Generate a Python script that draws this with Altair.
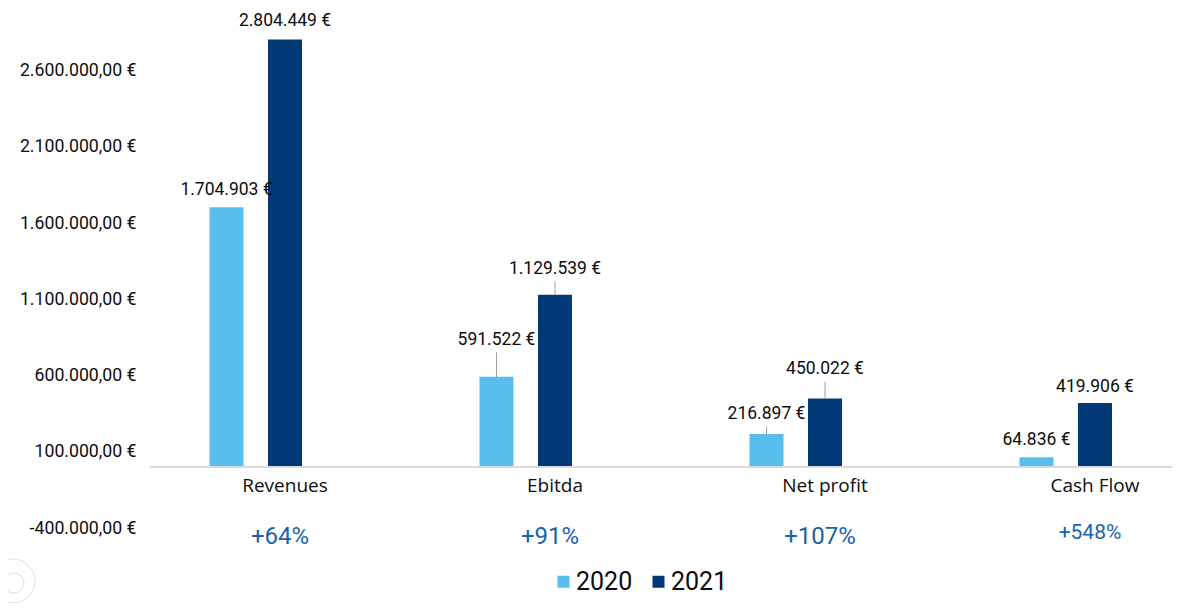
import altair as alt
import pandas as pd

# ---------------- data ----------------
categories = ["Revenues", "Ebitda", "Net profit", "Cash Flow"]
years = ["2020", "2021"]
values_2020 = [1704903, 591522, 216897, 64836]
values_2021 = [2804449, 1129539, 450022, 419906]
growth = ["+64%", "+91%", "+107%", "+548%"]
y_ticks = [-400000, 100000, 600000, 1100000, 1600000, 2100000, 2600000]

# ---------------- styling ----------------
# label lift above the bar top (pixels) as placed in the original
lift_2020 = [17.5, 37, 20, 17.5]
lift_2021 = [18.7, 26, 29, 16.5]

W, H = 1022, 503
YMIN, YMAX = -400000, 2900000
PX_PER_UNIT = H / (YMAX - YMIN)
ZERO_FROM_BOTTOM = round(-YMIN * PX_PER_UNIT)
C2020, C2021 = "#58BFED", "#023A78"
TXT = "#0d0d0d"

rows = []
for i, c in enumerate(categories):
    rows.append({"category": c, "year": "2020", "value": values_2020[i], "lift": lift_2020[i]})
    rows.append({"category": c, "year": "2021", "value": values_2021[i], "lift": lift_2021[i]})
df = pd.DataFrame(rows)
pct_df = pd.DataFrame({"category": categories, "growth": growth})

x_scale = alt.Scale(domain=categories, range=[0, 1080], paddingInner=0, paddingOuter=0)
x_axis = alt.Axis(title=None, labelAngle=0, domain=False, ticks=False, grid=False,
                  offset=-ZERO_FROM_BOTTOM,
                  labelFont="Open Sans", labelFontSize=19, labelColor=TXT, labelPadding=9)
x_enc = alt.X("category:N", sort=categories, scale=x_scale, axis=x_axis)
xoff = alt.XOffset("year:N", scale=alt.Scale(domain=["2020", "2021", "2022"], range=[47.25, 222.75],
                                             paddingInner=0.419, paddingOuter=0.2095))
y_scale = alt.Scale(domain=[YMIN, YMAX], nice=False, zero=False)

label_expr = ("replace(replace(replace(replace(format(datum.value, ',.2f'), regexp(',', 'g'), '#'),"
              " regexp('[.]', 'g'), ','), regexp('#', 'g'), '.'), '\u2212', '-') + ' \u20ac'")

y_axis = alt.Axis(title=None, values=y_ticks, labelExpr=label_expr, domain=False, ticks=False,
                  grid=False, labelFont="Roboto", labelFontSize=17.7, labelColor=TXT, labelPadding=14)

def yq(field):
    return alt.Y(field, type="quantitative", scale=y_scale, axis=y_axis)

base = alt.Chart(df).transform_calculate(
    label_y=f"datum.value + datum.lift / {PX_PER_UNIT}",
    leader_top=f"datum.value + (datum.lift - 12.5) / {PX_PER_UNIT}",
    label="replace(format(datum.value, ',d'), regexp(',', 'g'), '.') + ' \u20ac'",
)

bars = base.mark_bar().encode(
    x=x_enc,
    xOffset=xoff,
    y=yq("value"),
    color=alt.Color("year:N", scale=alt.Scale(domain=years, range=[C2020, C2021]),
                    legend=alt.Legend(title=None, orient="none", legendX=401, legendY=544,
                                      direction="horizontal", symbolType="square", symbolSize=144,
                                      symbolStrokeWidth=0, labelFont="Roboto", labelFontSize=25,
                                      labelColor=TXT, labelOffset=0, columnPadding=13, padding=0)),
)

zero_line = alt.Chart(pct_df).mark_rule(color="#dadada", strokeWidth=2).encode(
    y=alt.Y(datum=0, scale=y_scale, axis=y_axis),
    x=alt.value(0), x2=alt.value(W),
)

leaders = base.transform_filter("datum.lift > 19").mark_rule(color="#a0a0a0", strokeWidth=1).encode(
    x=x_enc, xOffset=xoff,
    y=yq("value"),
    y2="leader_top:Q",
)

labels = base.mark_text(font="Roboto", fontSize=17.5, color=TXT, baseline="middle").encode(
    x=x_enc, xOffset=xoff,
    y=yq("label_y"),
    text="label:N",
)

pct_main = alt.Chart(pct_df).transform_filter("datum.category != 'Cash Flow'").mark_text(
    font="Roboto", fontSize=24, color="#1763AD", baseline="alphabetic", dx=-5
).encode(x=x_enc, y=alt.value(519), text="growth:N")

pct_cf = alt.Chart(pct_df).transform_filter("datum.category == 'Cash Flow'").mark_text(
    font="Roboto", fontSize=21, color="#1763AD", baseline="alphabetic", dx=-5
).encode(x=x_enc, y=alt.value(514), text="growth:N")

one = pd.DataFrame({"k": [1]})
ring_outer = alt.Chart(one).mark_point(shape="circle", filled=False, stroke="#d2d2d2",
                                       strokeWidth=1, size=1936).encode(
    x=alt.value(-137), y=alt.value(556))
ring_inner = alt.Chart(one).mark_point(shape="circle", filled=False, stroke="#d2d2d2",
                                       strokeWidth=1, size=400).encode(
    x=alt.value(-136), y=alt.value(558))

chart = alt.layer(bars, zero_line, leaders, labels, pct_main, pct_cf, ring_outer, ring_inner).properties(
    width=W, height=H,
    autosize=alt.AutoSizeParams(type="none"),
    padding={"left": 142, "top": 17, "right": 7, "bottom": 75},
    background="white",
).configure_view(stroke=None)

chart.save("out.html", embed_options={"renderer": "svg", "actions": False})
